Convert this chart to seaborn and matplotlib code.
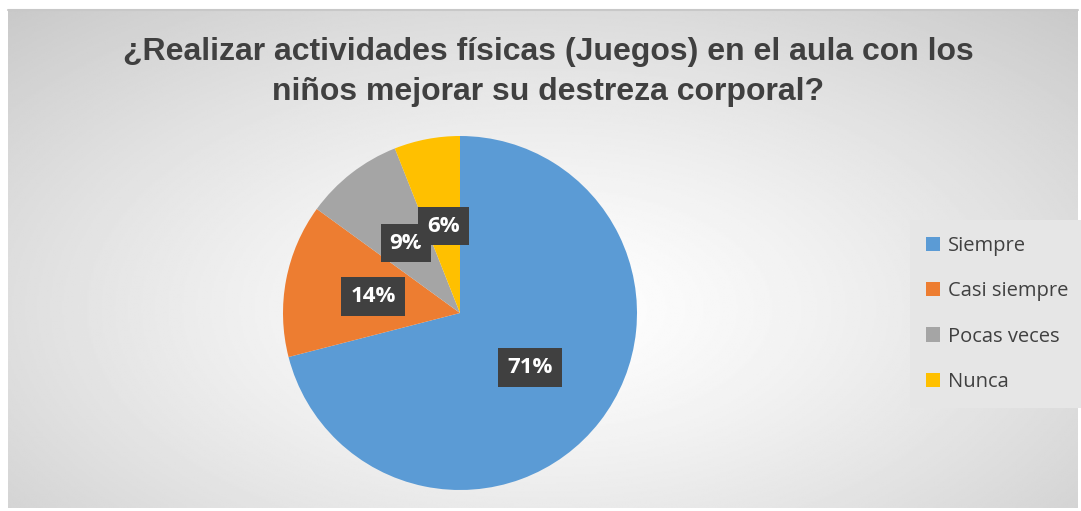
import numpy as np
import matplotlib
matplotlib.use("Agg")
import matplotlib.pyplot as plt
import seaborn as sns
from matplotlib.patches import Patch

categorias = ["Siempre", "Casi siempre", "Pocas veces", "Nunca"]
porcentajes = [71, 14, 9, 6]
colores = ["#5B9BD5", "#ED7D31", "#A5A5A5", "#FFC000"]
titulo = "¿Realizar actividades físicas (Juegos) en el aula con los\nniños mejorar su destreza corporal?"

sns.set_theme(style="white")
plt.rcParams["font.family"] = ["Liberation Sans", "DejaVu Sans"]

W, H = 1081, 511
fig = plt.figure(figsize=(W / 100, H / 100), dpi=100)
fig.patch.set_facecolor("white")

# fondo con degradado radial
bg = fig.add_axes([8 / W, 3 / H, 1070 / W, 498 / H])
yy, xx = np.mgrid[0:1:300j, 0:1:600j]
d = np.sqrt(((xx - 0.5) / 0.75) ** 2 + ((yy - 0.6) / 0.85) ** 2)
d = np.clip(d, 0, 1)
img = 1.0 - 0.22 * d ** 1.3
bg.imshow(img, cmap="gray", vmin=0, vmax=1, aspect="auto", extent=[0, 1, 0, 1], origin="upper")
bg.set_xticks([])
bg.set_yticks([])
for s in bg.spines.values():
    s.set_visible(False)
bg.plot([0, 1], [1, 1], color="#c8c8c8", lw=1.5, transform=bg.transAxes, clip_on=False)

# pie
r = 177
cx, cy = 460, H - 313
ax = fig.add_axes([(cx - r) / W, (cy - r) / H, 2 * r / W, 2 * r / H])
wedges, texts, autotexts = ax.pie(
    porcentajes, colors=colores, startangle=90, counterclock=False,
    autopct=lambda p: f"{p:.0f}%", pctdistance=0.5,
    wedgeprops=dict(linewidth=0),
    textprops=dict(color="white", fontsize=16, fontweight="bold", family=["Open Sans", "DejaVu Sans"]),
)
for t in autotexts:
    t.set_bbox(dict(boxstyle="square,pad=0.4", facecolor="#404040", edgecolor="none"))
ax.set_xlim(-1, 1)
ax.set_ylim(-1, 1)
ax.set_aspect("equal")
ax.patch.set_visible(False)

fig.text(548 / W, 1 - 72 / H, titulo, ha="center", va="center", fontsize=23,
         fontweight="bold", color="#404040", linespacing=1.45)

handles = [Patch(facecolor=c, edgecolor="none") for c in colores]
leg = fig.legend(handles, categorias, loc="upper left", bbox_to_anchor=(900 / W, 1 - 210 / H),
                 frameon=True, fancybox=False, handlelength=0.7, handleheight=0.7,
                 handletextpad=0.4, labelspacing=1.25, borderpad=0.8,
                 prop=dict(family=["Open Sans", "DejaVu Sans"], size=14.5))
leg.get_frame().set_facecolor("#e6e6e6")
leg.get_frame().set_edgecolor("none")
leg.get_frame().set_alpha(1)
for t in leg.get_texts():
    t.set_color("#404040")

fig.savefig("out.png", dpi=100)
